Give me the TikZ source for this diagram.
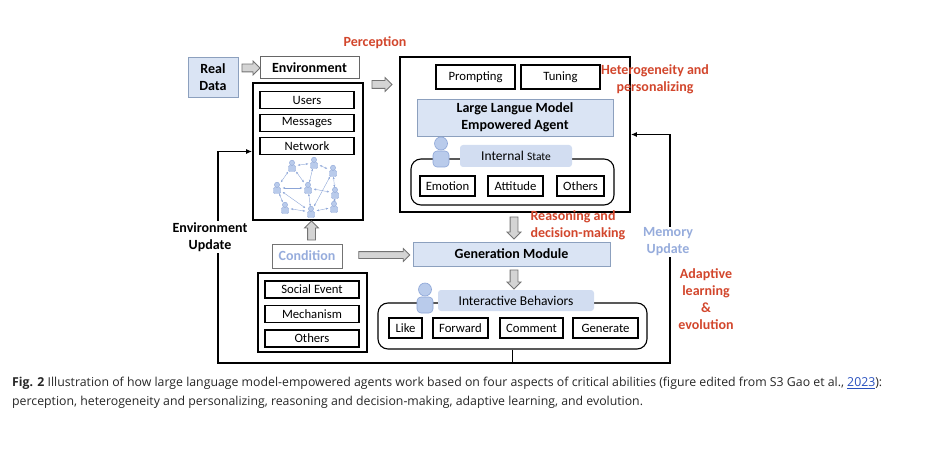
\documentclass[tikz,border=0pt]{standalone}
\usepackage{fontspec}
\setmainfont{Carlito}
\newfontfamily\capfont{Open Sans}
\usetikzlibrary{positioning,shapes.arrows,arrows.meta}

\definecolor{boxblue}{RGB}{218,228,244}
\definecolor{boxline}{RGB}{140,160,190}
\definecolor{statefill}{RGB}{210,221,241}
\definecolor{iconfill}{RGB}{185,203,235}
\definecolor{iconline}{RGB}{140,165,215}
\definecolor{softblue}{RGB}{150,172,220}
\definecolor{redtxt}{RGB}{210,70,44}
\definecolor{arrfill}{RGB}{212,212,212}
\definecolor{arrline}{RGB}{115,115,115}
\definecolor{linkblue}{RGB}{40,80,190}

\newcommand\labfont{\fontsize{12.7}{16}\selectfont}
\newcommand\headfont{\fontsize{14}{17}\selectfont\bfseries}

\tikzset{
  person/.pic={
    \draw[fill=iconfill, draw=iconline, line width=0.6pt, rounded corners=4pt] (-8,-1) rectangle (8,15);
    \draw[fill=iconfill, draw=iconline, line width=0.6pt] (0,-8.5) circle (6.5);
  },
  tinyuser/.pic={
    \draw[fill=iconfill, draw=iconline, line width=0.4pt, rounded corners=1pt] (-3.5,-0.5) rectangle (3.5,5.5);
    \draw[fill=iconfill, draw=iconline, line width=0.4pt] (0,-3.2) circle (2.6);
  }
}

\begin{document}
\begin{tikzpicture}
  [x=1pt, y=-1pt,
   every node/.style={font=\labfont},
   item/.style={draw, line width=1.1pt, inner sep=0pt},
   container/.style={draw, line width=1.7pt},
   bluebox/.style={draw=boxline, fill=boxblue, line width=0.8pt, inner sep=0pt, align=center, font=\headfont},
   tagbox/.style={fill=statefill, rounded corners=3pt, inner sep=0pt},
   rowbox/.style={draw, line width=1.1pt, rounded corners=10pt},
   blockarrow/.style={single arrow, draw=arrline, fill=arrfill, line width=0.8pt, inner sep=3.5pt, single arrow head extend=3pt},
   redlab/.style={text=redtxt, font=\headfont, align=center},
   fb/.style={line width=1.7pt},
   netedge/.style={draw=iconline, line width=0.4pt, {Stealth[length=2.5pt,width=2pt]}-{Stealth[length=2.5pt,width=2pt]}}]
  \useasboundingbox (0,0) rectangle (928,470);

  % environment side
  \node[bluebox, minimum width=50pt, minimum height=40pt] (real) at (213,77) {Real\\Data};
  \node[draw=black!60, line width=1pt, minimum width=99pt, minimum height=22pt, font=\headfont] (env) at (309.5,68) {Environment};
  \node[container, minimum width=110pt, minimum height=137pt] (envbox) at (308,151.5) {};
  \foreach \name/\txt [count=\i] in {users/Users, msgs/Messages, net/Network}
    \node[item, minimum width=94pt, minimum height=17pt] (\name) at (307,77+23*\i) {\txt};
  \node[blockarrow, minimum height=18pt] (arrReal) at (249,68) {};

  % network
  \foreach \i/\p in {1/{292,166}, 2/{314,163}, 3/{333,171}, 4/{277,188}, 5/{308,188},
                     6/{335,193}, 7/{285,208}, 8/{311,212}, 9/{334,207}} {
    \node[inner sep=0pt, minimum size=11pt] (n\i) at (\p) {};
    \pic at (\p) {tinyuser};
  }
  \foreach \a/\b in {1/2, 2/3, 1/5, 2/5, 4/1, 4/5, 4/7, 4/8, 3/6, 6/5, 7/8, 8/5, 8/3, 8/9, 9/6}
    \draw[netedge] (n\a) -- (n\b);

  % agent
  \node[container, minimum width=230pt, minimum height=155pt] (agent) at (515,134.5) {};
  \node[item, minimum width=79pt, minimum height=24pt] (prompt) at (475.5,77) {Prompting};
  \node[item, minimum width=79pt, minimum height=24pt] (tuning) at (560.5,77) {Tuning};
  \node[bluebox, minimum width=196pt, minimum height=37pt] (llm) at (515,117.5) {Large Langue Model\\Empowered Agent};
  \node[rowbox, minimum width=203pt, minimum height=46pt] (staterow) at (512.5,182) {};
  \node[tagbox, minimum width=112pt, minimum height=22pt] (statelab) at (516,156) {\fontsize{13.5}{16}\selectfont Internal {\fontsize{11.5}{13}\selectfont State}};
  \pic at (441,152) {person};
  \foreach \name/\txt/\x/\w in {emotion/Emotion/447.5/55, attitude/Attitude/515.5/55, othersA/Others/580.5/47}
    \node[item, minimum width=\w pt, minimum height=20pt] (\name) at (\x,186) {\txt};
  \node[blockarrow, minimum height=20pt] (arrPer) at (380,84.5) {};

  % generation
  \node[bluebox, minimum width=197pt, minimum height=24pt] (gen) at (511.5,254) {Generation Module};
  \node[blockarrow, minimum height=22pt, shape border rotate=270] (arrReason) at (514,226) {};
  \node[blockarrow, minimum height=19pt, shape border rotate=270] (arrGen) at (514,277.5) {};

  % condition
  \node[draw=black!55, line width=0.9pt, minimum width=70pt, minimum height=24pt, text=softblue, font=\headfont] (cond) at (307,256) {Condition};
  \node[blockarrow, minimum height=19pt, shape border rotate=90] (arrCond) at (311.5,232.5) {};
  \node[blockarrow, minimum height=51pt, inner sep=3pt] (arrCondGen) at (382.5,255) {};
  \node[container, minimum width=109pt, minimum height=79pt] (socbox) at (312.5,312.5) {};
  \foreach \name/\txt [count=\i] in {social/Social Event, mech/Mechanism, othersB/Others}
    \node[item, minimum width=94pt, minimum height=17pt] (\name) at (312,265+24.5*\i) {\txt};

  % behaviors
  \node[rowbox, minimum width=269pt, minimum height=46pt] (behrow) at (512.5,326) {};
  \node[tagbox, minimum width=156pt, minimum height=21pt] (behlab) at (516,300.5) {\fontsize{13.5}{16}\selectfont Interactive Behaviors};
  \pic at (425,298) {person};
  \foreach \name/\txt/\x/\w in {like/Like/405.5/33, forward/Forward/460.5/55, comment/Comment/531.5/63, generate/Generate/605.5/65}
    \node[item, minimum width=\w pt, minimum height=20pt] (\name) at (\x,328) {\txt};

  % feedback loop
  \coordinate (botL) at (218,363);
  \coordinate (botR) at (670,363);
  \draw[fb] (behrow.south) -- (behrow.south |- botL);
  \draw[fb, -{Latex[length=6pt,width=5pt]}] (botR) -- (botL) |- (envbox.west);
  \draw[fb, -{Latex[length=6pt,width=5pt]}] (botL) -- (botR) |- (agent.east);

  % labels
  \node[redlab] (perc) at (375,43) {Perception};
  \node[redlab] (hetero) at (655,79) {Heterogeneity and\\personalizing};
  \node[redlab, align=left, anchor=west] (reason) at (527,225) {Reasoning and\\decision-making};
  \node[fill=white, text=softblue, font=\headfont, align=center, inner sep=1pt] (memup) at (668,242) {Memory\\Update};
  \node[redlab] (adapt) at (706,299) {Adaptive\\learning\\\&\\evolution};
  \node[fill=white, font=\headfont, align=center, inner sep=1pt] (envup) at (210,237) {Environment\\Update};

  % caption
  \node[anchor=north west, align=left, inner sep=0pt, text=black!85, font=\capfont\fontsize{12.3}{18.5}\selectfont] (caption) at (12,377)
    {\textbf{Fig. 2} Illustration of how large language model-empowered agents work based on four aspects of critical abilities (figure edited from S3 Gao et al., {\color{linkblue}\underline{2023}}):\\
     perception, heterogeneity and personalizing, reasoning and decision-making, adaptive learning, and evolution.};
\end{tikzpicture}
\end{document}
